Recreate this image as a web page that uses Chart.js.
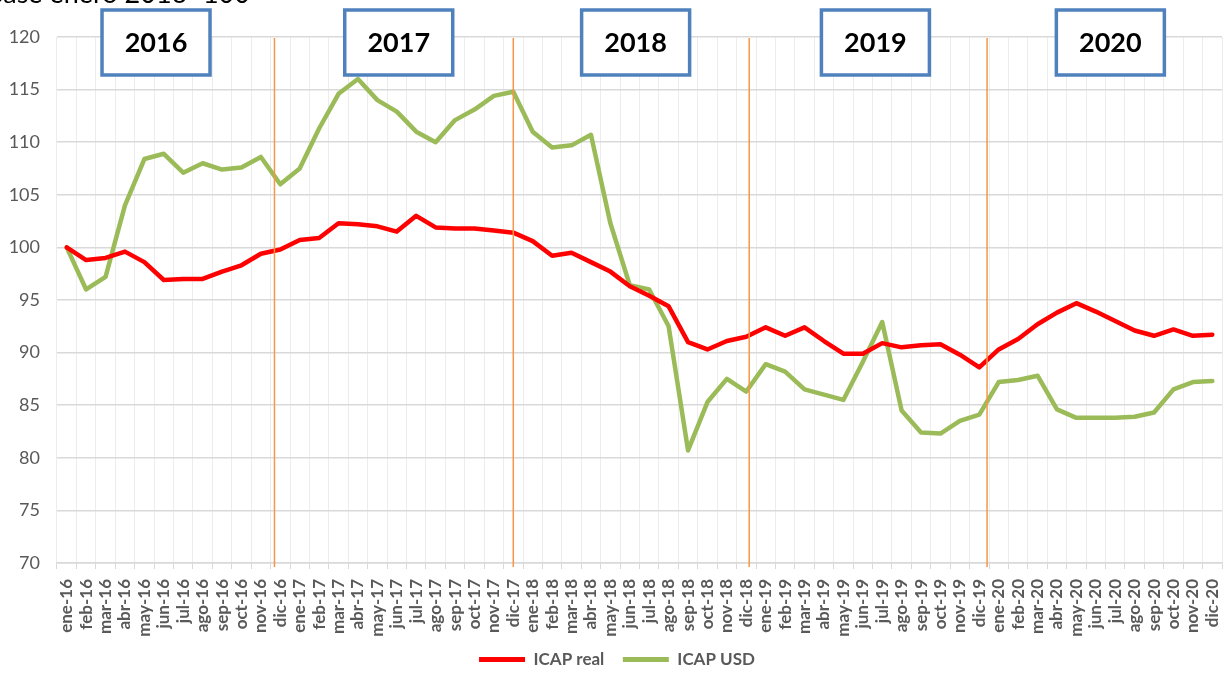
<!DOCTYPE html>
<html>
<head>
<meta charset="utf-8">
<script src="https://cdn.jsdelivr.net/npm/chart.js@4.4.1/dist/chart.umd.min.js"></script>
<style>
  html, body { margin: 0; padding: 0; background: #fff; }
  #wrap { width: 1230px; height: 673px; }
</style>
</head>
<body>
<div id="wrap"><canvas id="chart" width="1230" height="673"></canvas></div>
<script>
// meses ene-16 .. dic-20
const monthNames = ['ene', 'feb', 'mar', 'abr', 'may', 'jun', 'jul', 'ago', 'sep', 'oct', 'nov', 'dic'];
const yearSuffix = ['16', '17', '18', '19', '20'];
const months = [];
yearSuffix.forEach(y => monthNames.forEach(m => months.push(m + '-' + y)));

const icapReal = [
  100.0, 98.8, 99.0, 99.6, 98.6, 96.9, 97.0, 97.0, 97.7, 98.3, 99.4, 99.8,
  100.7, 100.9, 102.3, 102.2, 102.0, 101.5, 103.0, 101.9, 101.8, 101.8, 101.6, 101.4,
  100.6, 99.2, 99.5, 98.6, 97.7, 96.3, 95.4, 94.4, 91.0, 90.3, 91.1, 91.5,
  92.4, 91.6, 92.4, 91.1, 89.9, 89.9, 90.9, 90.5, 90.7, 90.8, 89.8, 88.6,
  90.3, 91.3, 92.7, 93.8, 94.7, 93.9, 93.0, 92.1, 91.6, 92.2, 91.6, 91.7
];
const icapUsd = [
  100.0, 96.0, 97.2, 104.0, 108.4, 108.9, 107.1, 108.0, 107.4, 107.6, 108.6, 106.0,
  107.5, 111.3, 114.6, 116.0, 114.0, 112.9, 111.0, 110.0, 112.1, 113.1, 114.4, 114.8,
  111.0, 109.5, 109.7, 110.7, 102.3, 96.4, 96.0, 92.5, 80.7, 85.3, 87.5, 86.3,
  88.9, 88.2, 86.5, 86.0, 85.5, 89.1, 92.9, 84.5, 82.4, 82.3, 83.5, 84.1,
  87.2, 87.4, 87.8, 84.6, 83.8, 83.8, 83.8, 83.9, 84.3, 86.5, 87.2, 87.3
];

const yMin = 70;
const yMax = 120;
const yStep = 5;

const yearLabels = ['2016', '2017', '2018', '2019', '2020'];
const yearBoxAt = [4.6, 17.1, 29.3, 41.65, 53.75];   // posicion en el eje de meses
const yearMarks = [10.7, 23.0, 35.15, 47.4];          // lineas naranjas
const subtitle = 'Base enero 2016=100';

const FONT = 'Lato, "Liberation Sans", sans-serif';
const PLOT_BOTTOM = 563;

const overlay = {
  id: 'overlay',
  afterLayout(chart) {
    // mover la leyenda un poco (abajo / derecha)
    const lg = chart.legend;
    lg.top += 5;
    lg.bottom += 5;
    lg.left += 6;
    lg.right += 6;
  },
  afterDatasetsDraw(chart) {
    const ctx = chart.ctx;
    const x = chart.scales.x;
    const y = chart.scales.y;
    ctx.save();
    // lineas de cambio de año
    ctx.strokeStyle = '#F79646';
    ctx.lineWidth = 1.5;
    yearMarks.forEach(v => {
      const px = x.getPixelForValue(v);
      ctx.beginPath();
      ctx.moveTo(px, y.getPixelForValue(yMax) + 1);
      ctx.lineTo(px, y.getPixelForValue(yMin) + 4);
      ctx.stroke();
    });
    // cajas de años
    yearLabels.forEach((lab, i) => {
      const cx = x.getPixelForValue(yearBoxAt[i]);
      const w = 108, h = 65, top = 10;
      ctx.fillStyle = '#fff';
      ctx.fillRect(cx - w / 2, top, w, h);
      ctx.strokeStyle = '#4F81BD';
      ctx.lineWidth = 3.5;
      ctx.strokeRect(cx - w / 2, top, w, h);
      ctx.fillStyle = '#000';
      ctx.font = 'bold 27px ' + FONT;
      ctx.textAlign = 'center';
      ctx.textBaseline = 'middle';
      ctx.fillText(lab, cx, top + h / 2 + 1);
    });
    // subtitulo cortado arriba
    ctx.fillStyle = '#000';
    ctx.font = '27px ' + FONT;
    ctx.textAlign = 'left';
    ctx.textBaseline = 'alphabetic';
    ctx.fillText(subtitle, -14, 3);
    ctx.restore();
  }
};

const ctx = document.getElementById('chart').getContext('2d');
const chart = new Chart(ctx, {
  type: 'line',
  data: {
    labels: months,
    datasets: [
      {
        label: 'ICAP real',
        data: icapReal,
        borderColor: '#FF0000',
        backgroundColor: '#FF0000',
        borderWidth: 4.5,
        pointRadius: 0,
        borderJoinStyle: 'round',
        borderCapStyle: 'round',
        fill: false
      },
      {
        label: 'ICAP USD',
        data: icapUsd,
        borderColor: '#9BBB59',
        backgroundColor: '#9BBB59',
        borderWidth: 4.5,
        pointRadius: 0,
        borderJoinStyle: 'round',
        borderCapStyle: 'round',
        fill: false
      }
    ]
  },
  options: {
    responsive: false,
    animation: false,
    devicePixelRatio: 1,
    layout: { padding: { top: 37, right: 8, left: 0, bottom: 0 } },
    scales: {
      x: {
        offset: true,
        grid: {
          offset: true,
          color: '#ECECEC',
          lineWidth: 1,
          tickLength: 6,
          tickColor: '#D9D9D9'
        },
        border: { color: '#D9D9D9', width: 1.5 },
        ticks: {
          autoSkip: false,
          maxRotation: 90,
          minRotation: 90,
          padding: 10,
          color: '#595959',
          font: { family: FONT, size: 17, weight: 'bold' }
        },
        afterFit: s => {
          s.paddingLeft = 0;
          s.paddingRight = 0;
          s.height = 673 - PLOT_BOTTOM - s.chart.legend.height;
        }
      },
      y: {
        min: yMin,
        max: yMax,
        ticks: {
          stepSize: yStep,
          padding: 17,
          color: '#595959',
          font: { family: FONT, size: 18 }
        },
        grid: { color: '#D9D9D9', lineWidth: 1.5, drawTicks: false },
        border: { display: false },
        afterFit: s => { s.width = 57; }
      }
    },
    plugins: {
      tooltip: { enabled: false },
      legend: {
        position: 'bottom',
        labels: {
          boxWidth: 46,
          boxHeight: 5,
          padding: 2,
          color: '#595959',
          font: { family: FONT, size: 17, weight: 'bold' },
          generateLabels: c => {
            const items = Chart.defaults.plugins.legend.labels.generateLabels(c);
            items.forEach((it, i) => {
              it.fillStyle = it.strokeStyle;
              it.lineWidth = 0;
              if (i === 0) it.text = it.text + '    ';
            });
            return items;
          }
        }
      }
    }
  },
  plugins: [overlay]
});
</script>
</body>
</html>
